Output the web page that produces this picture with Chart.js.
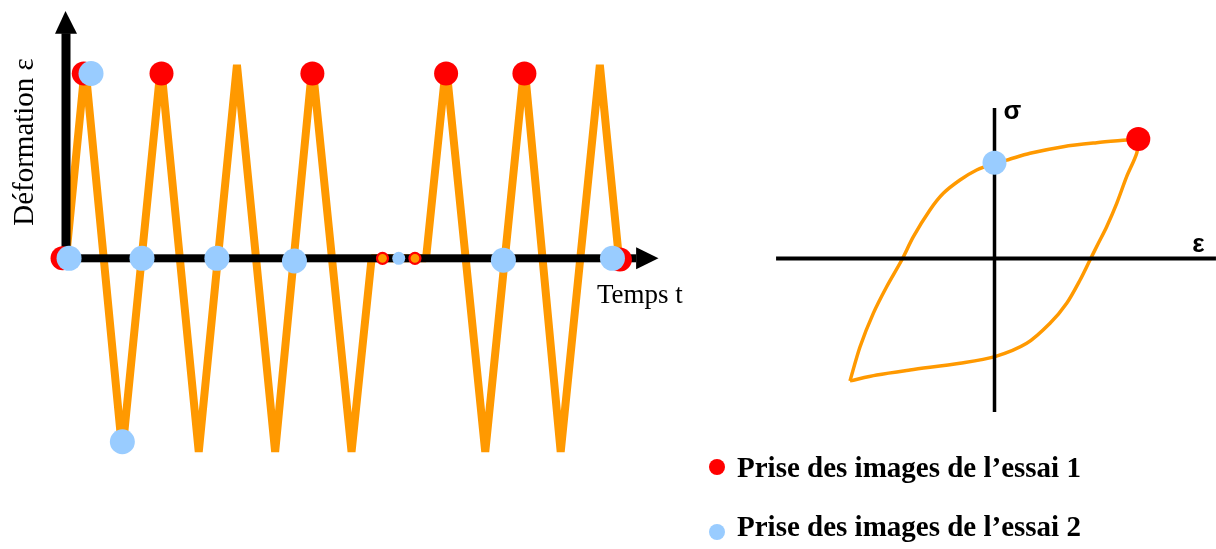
<!DOCTYPE html>
<html>
<head>
<meta charset="utf-8">
<script src="https://cdn.jsdelivr.net/npm/chart.js@4.4.1/dist/chart.umd.min.js"></script>
<style>
  html, body { margin: 0; padding: 0; background: #fff; }
  #wrap { position: relative; width: 1216px; height: 549px; overflow: hidden; }
  #c { position: absolute; left: 0; top: 0; }
  .leg { position: absolute; left: 737px; font-family: "Liberation Serif", "Times New Roman", serif;
         font-weight: bold; font-size: 29px; line-height: 29px; color: #000; white-space: nowrap; }
  .dot { position: absolute; width: 16px; height: 16px; border-radius: 50%; }
</style>
</head>
<body>
<div id="wrap">
  <canvas id="c" width="1216" height="549"></canvas>
  <span class="dot" style="left:709px;top:459px;background:#FF0000"></span>
  <div class="leg" style="top:453px">Prise des images de l’essai 1</div>
  <span class="dot" style="left:709px;top:524px;background:#99CCFF"></span>
  <div class="leg" style="top:512px">Prise des images de l’essai 2</div>
</div>
<script>
// ---- Left panel: strain vs time (zigzag loading) ----
const zigzagT   = [0, 1, 2.95, 4.97, 6.95, 8.95, 10.95, 12.9, 14.95, 16, 18.85, 19.9, 21.95, 24, 25.9, 27.95, 28.95];
const zigzagEps = [0, 1, -1,   1,    -1,   1,    -1,    1,    -1,    0,  0,     1,    -1,    1,  -1,   1,     0];

// image acquisition points, test 1 (red)
const test1T   = [-0.18, 0.93, 5.0, 12.9, 19.9, 24.0, 29.0];
const test1Eps = [0, 0.955, 0.955, 0.955, 0.955, 0.955, -0.006];
const test1SmallT   = [16.57, 18.27];
const test1SmallEps = [0, 0];

// image acquisition points, test 2 (blue)
const test2T   = [0.16, 1.31, 2.95, 3.98, 7.9, 11.96, 22.9, 28.61];
const test2Eps = [0, 0.955, -0.948, 0, 0, -0.014, -0.01, 0];
const test2SmallT   = [17.42];
const test2SmallEps = [0];

// ---- Right panel: stress-strain hysteresis loop ----
const loopUpEps   = [-1.005, -0.935, -0.843, -0.75, -0.645, -0.565, -0.449, -0.356, -0.24, -0.124, 0, 0.085, 0.247, 0.478, 0.71, 0.919, 1.0];
const loopUpSig   = [-1.02, -0.735, -0.457, -0.235, -0.0125, 0.18, 0.404, 0.543, 0.654, 0.7375, 0.793, 0.82, 0.877, 0.932, 0.965, 0.9875, 0.996];
const loopDownEps = [1.0, 0.989, 0.919, 0.85, 0.78, 0.722, 0.664, 0.595, 0.502, 0.386, 0.224, 0.003, -0.24, -0.588, -0.819, -1.005];
const loopDownSig = [0.996, 0.877, 0.682, 0.46, 0.265, 0.127, -0.0125, -0.179, -0.373, -0.54, -0.707, -0.818, -0.873, -0.929, -0.971, -1.02];
const loop1Eps = [1.0];
const loop1Sig = [0.996];
const loop2Eps = [0];
const loop2Sig = [0.798];

// Labels
const leftYLabel = 'Déformation ε';
const leftXLabel = 'Temps t';
const rightYLabel = 'σ';
const rightXLabel = 'ε';

const ORANGE = '#FF9900', RED = '#FF0000', BLUE = '#99CCFF';

const pts = (xs, ys) => xs.map((x, i) => ({ x: x, y: ys[i] }));

const axesPlugin = {
  id: 'axesPlugin',
  afterDatasetDraw(chart, args) {
    if (chart.data.datasets[args.index].id !== 'loopDown') return;
    const ctx = chart.ctx;
    const sx = chart.scales.x, sy = chart.scales.y, sx2 = chart.scales.x2, sy2 = chart.scales.y2;
    ctx.save();
    ctx.fillStyle = '#000';
    ctx.strokeStyle = '#000';
    // left vertical axis with arrow
    const x0 = sx.getPixelForValue(0), y0 = sy.getPixelForValue(0);
    const yTip = sy.getPixelForValue(1.278), yBase = sy.getPixelForValue(1.163);
    ctx.fillRect(x0 - 4.5, yBase, 9, y0 + 4 - yBase);
    ctx.beginPath();
    ctx.moveTo(x0 - 11, yBase + 0.5); ctx.lineTo(x0 + 11, yBase + 0.5); ctx.lineTo(x0 - 0.5, yTip);
    ctx.closePath(); ctx.fill();
    // left horizontal axis with arrow
    const xStart = sx.getPixelForValue(-0.2), xBase = sx.getPixelForValue(29.85), xTip = sx.getPixelForValue(31.02);
    ctx.fillRect(xStart, y0 - 4, xBase - xStart, 8);
    ctx.beginPath();
    ctx.moveTo(xBase, y0 - 11); ctx.lineTo(xBase, y0 + 11); ctx.lineTo(xTip, y0);
    ctx.closePath(); ctx.fill();
    // right axes
    const rx0 = sx2.getPixelForValue(0), ry0 = sy2.getPixelForValue(0);
    ctx.lineWidth = 4;
    ctx.beginPath();
    ctx.moveTo(sx2.getPixelForValue(-1.519), ry0); ctx.lineTo(sx2.getPixelForValue(1.54), ry0);
    ctx.stroke();
    ctx.lineWidth = 3.5;
    ctx.beginPath();
    ctx.moveTo(rx0, sy2.getPixelForValue(1.254)); ctx.lineTo(rx0, sy2.getPixelForValue(-1.279));
    ctx.stroke();
    // labels
    ctx.textBaseline = 'alphabetic';
    ctx.font = '29px "Liberation Serif", "Times New Roman", serif';
    ctx.save();
    ctx.translate(33, 142);
    ctx.rotate(-Math.PI / 2);
    ctx.textAlign = 'center';
    ctx.fillText(leftYLabel, 0, 0);
    ctx.restore();
    ctx.font = '27px "Liberation Serif", "Times New Roman", serif';
    ctx.textAlign = 'left';
    ctx.fillText(leftXLabel, 597, 303);
    ctx.font = 'bold 26px "Liberation Sans", Arial, sans-serif';
    ctx.textAlign = 'center';
    ctx.fillText(rightYLabel, 1012.5, 118.5);
    ctx.fillText(rightXLabel, 1198.5, 252);
    ctx.restore();
  }
};

new Chart(document.getElementById('c'), {
  type: 'scatter',
  data: {
    datasets: [
      { id: 'zigzag', order: 10, data: pts(zigzagT, zigzagEps), xAxisID: 'x', yAxisID: 'y',
        showLine: true, borderColor: ORANGE, borderWidth: 8, borderJoinStyle: 'bevel', pointRadius: 0, tension: 0 },
      { id: 'loopUp', order: 9, data: pts(loopUpEps, loopUpSig), xAxisID: 'x2', yAxisID: 'y2',
        showLine: true, borderColor: ORANGE, borderWidth: 3.5, pointRadius: 0, tension: 0.3 },
      { id: 'loopDown', order: 8, data: pts(loopDownEps, loopDownSig), xAxisID: 'x2', yAxisID: 'y2',
        showLine: true, borderColor: ORANGE, borderWidth: 3.5, pointRadius: 0, tension: 0.3 },
      { id: 'test1', label: 'Prise des images de l’essai 1', order: 6, data: pts(test1T, test1Eps), xAxisID: 'x', yAxisID: 'y',
        pointRadius: 12, pointBackgroundColor: RED, pointBorderWidth: 0 },
      { id: 'test1small', order: 5, data: pts(test1SmallT, test1SmallEps), xAxisID: 'x', yAxisID: 'y',
        pointRadius: 5.5, pointBackgroundColor: ORANGE, pointBorderColor: RED, pointBorderWidth: 2.2 },
      { id: 'loop1', order: 4, data: pts(loop1Eps, loop1Sig), xAxisID: 'x2', yAxisID: 'y2',
        pointRadius: 12, pointBackgroundColor: RED, pointBorderWidth: 0 },
      { id: 'test2', label: 'Prise des images de l’essai 2', order: 3, data: pts(test2T, test2Eps), xAxisID: 'x', yAxisID: 'y',
        pointRadius: 12.5, pointBackgroundColor: BLUE, pointBorderWidth: 0 },
      { id: 'test2small', order: 2, data: pts(test2SmallT, test2SmallEps), xAxisID: 'x', yAxisID: 'y',
        pointRadius: 6.5, pointBackgroundColor: BLUE, pointBorderWidth: 0 },
      { id: 'loop2', order: 1, data: pts(loop2Eps, loop2Sig), xAxisID: 'x2', yAxisID: 'y2',
        pointRadius: 12, pointBackgroundColor: BLUE, pointBorderWidth: 0 }
    ]
  },
  options: {
    responsive: false,
    devicePixelRatio: 1,
    animation: false,
    layout: { padding: 0, autoPadding: false },
    plugins: { legend: { display: false }, tooltip: { enabled: false }, title: { display: false } },
    events: [],
    scales: {
      x:  { type: 'linear', display: false, min: -3.4555, max: 60.209 },
      y:  { type: 'linear', display: false, min: -1.50233, max: 1.33488 },
      x2: { type: 'linear', display: false, min: -6.9159, max: 1.5403 },
      y2: { type: 'linear', display: false, min: -2.42083, max: 2.15417 }
    }
  },
  plugins: [axesPlugin]
});
</script>
</body>
</html>
